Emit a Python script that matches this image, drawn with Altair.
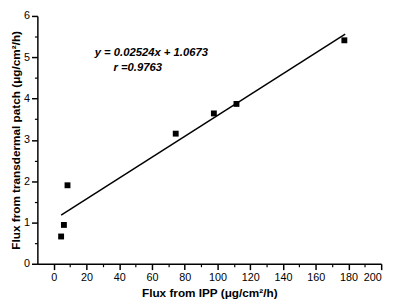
import altair as alt
import pandas as pd

# data
ipp = [4.5, 6.2, 8.4, 74.5, 97.8, 111.6, 177.5]
patch = [0.66, 0.94, 1.90, 3.15, 3.64, 3.87, 5.41]
fit_x = [4.5, 178]
fit_y = [1.18, 5.56]
x_major = [0, 20, 40, 60, 80, 100, 120, 140, 160, 180, 200]
x_minor = [10, 30, 50, 70, 90, 110, 130, 150, 170, 190]
y_major = [0, 1, 2, 3, 4, 5, 6]
y_minor = [0.5, 1.5, 2.5, 3.5, 4.5, 5.5]
notes = ["y = 0.02524x + 1.0673", "r =0.9763"]
note_x = [25, 36.5]
note_y = [5.10, 4.74]

pts = pd.DataFrame({"x": ipp, "y": patch})
fit = pd.DataFrame({"x": fit_x, "y": fit_y})
ann = pd.DataFrame({"x": note_x, "y": note_y, "t": notes})

FONT = "Liberation Sans"
xs = alt.Scale(domain=[-10, 200], nice=False, zero=False)
ys = alt.Scale(domain=[0, 6], nice=False, zero=False)

main_x = alt.Axis(values=x_major, title="Flux from IPP (μg/cm²/h)", grid=False,
                  tickSize=6, labelPadding=2, domainColor="black", tickColor="black",
                  labelColor="black", titleColor="black", labelFont=FONT, titleFont=FONT,
                  labelFontSize=11, titleFontSize=12, titleFontWeight="bold",
                  titlePadding=5, domainWidth=1.5, tickWidth=1.5, orient="bottom")
main_y = alt.Axis(values=y_major, title="Flux from transdermal patch (μg/cm²/h)", grid=False,
                  tickSize=6, labelPadding=2, domainColor="black", tickColor="black",
                  labelColor="black", titleColor="black", labelFont=FONT, titleFont=FONT,
                  labelFontSize=11, titleFontSize=12, titleFontWeight="bold",
                  titlePadding=1, domainWidth=1.5, tickWidth=1.5, orient="left")
minor_x = alt.Axis(values=x_minor, title=None, labels=False, domain=False, grid=False,
                   tickSize=3, tickColor="black", tickWidth=1.2, orient="bottom")
minor_y = alt.Axis(values=y_minor, title=None, labels=False, domain=False, grid=False,
                   tickSize=3, tickColor="black", tickWidth=1.2, orient="left")

points = alt.Chart(pts).mark_square(size=36, color="black", opacity=1).encode(
    x=alt.X("x:Q", scale=xs, axis=main_x),
    y=alt.Y("y:Q", scale=ys, axis=main_y),
)
line = alt.Chart(fit).mark_line(color="black", strokeWidth=1.5).encode(
    x=alt.X("x:Q", scale=xs, axis=minor_x),
    y=alt.Y("y:Q", scale=ys, axis=minor_y),
)
text = alt.Chart(ann).mark_text(font=FONT, fontSize=11.5, fontWeight="bold",
                                fontStyle="italic", align="left", baseline="middle",
                                color="black").encode(
    x=alt.X("x:Q", scale=xs, axis=None),
    y=alt.Y("y:Q", scale=ys, axis=None),
    text="t:N",
)

chart = alt.layer(points, line, text).resolve_axis(x="independent", y="independent").properties(
    width=351, height=253,
    autosize=alt.AutoSizeParams(type="none"),
    padding={"left": 30, "top": 5, "right": 9, "bottom": 39},
).configure_view(stroke=None)

chart.save("out.html", embed_options={"renderer": "svg", "actions": False})
